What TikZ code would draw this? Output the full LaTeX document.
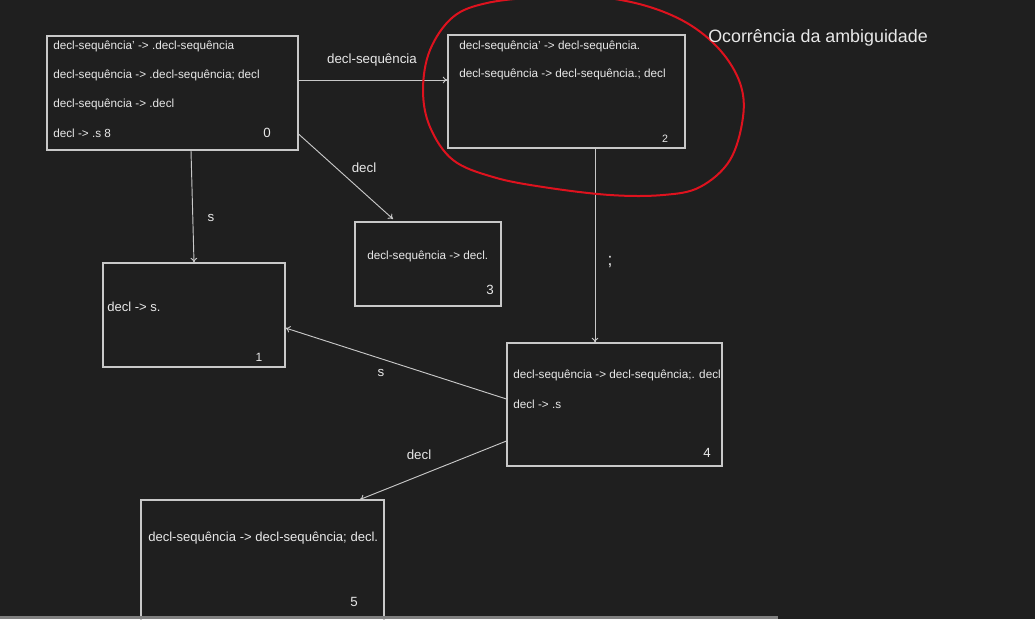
\documentclass[tikz,border=0pt]{standalone}
\usepackage{fontspec}
\setmainfont{Liberation Sans}
\usetikzlibrary{arrows.meta}

\definecolor{bgdark}{RGB}{31,31,31}
\definecolor{boxline}{RGB}{200,200,200}
\definecolor{txt}{RGB}{232,232,232}
\definecolor{inkred}{RGB}{222,18,30}
\definecolor{scrollbar}{RGB}{128,128,128}

\begin{document}
\begin{tikzpicture}[x=0.75pt,y=-0.75pt,
	state/.style 2 args={draw=boxline,line width=0.8pt,minimum width=#1*0.75pt,minimum height=#2*0.75pt,inner sep=0pt},
	item/.style={text=txt,anchor=west,inner sep=0pt,font=\fontsize{8.8}{10}\selectfont},
	bigitem/.style={item,font=\fontsize{9.8}{11}\selectfont},
	num/.style={text=txt,inner sep=0pt,font=\fontsize{#1}{11}\selectfont},
	lbl/.style={text=txt,inner sep=0pt,font=\fontsize{10}{12}\selectfont},
	trans/.style={draw=boxline,line width=0.7pt,-{To[length=3.5pt,width=5pt]}}]

	\path[use as bounding box,fill=bgdark] (0,0) rectangle (1035,619);
	\clip (0,0) rectangle (1035,619);

	% states
	\node[state={251}{114}] (s0) at (172.5,93)  {};
	\node[state={237}{113}] (s2) at (566.5,91.5) {};
	\node[state={182}{104}] (s1) at (194,315)   {};
	\node[state={146}{84}]  (s3) at (428,264)   {};
	\node[state={215}{123}] (s4) at (614.5,404.5) {};
	\node[state={243}{140}] (s5) at (262.5,570) {};

	% items
	\node[item] (i0a) at (53,46)  {decl-sequência' -> .decl-sequência};
	\node[item] (i0b) at (53,75)  {decl-sequência -> .decl-sequência; decl};
	\node[item] (i0c) at (53,104) {decl-sequência -> .decl};
	\node[item] (i0d) at (53,133) {decl -> .s 8};
	\node[num=10] (n0) at (267,133) {0};

	\node[item] (i2a) at (459,46) {decl-sequência' -> decl-sequência.};
	\node[item] (i2b) at (459,74) {decl-sequência -> decl-sequência.; decl};
	\node[num=8] (n2) at (665,139) {2};

	\node[bigitem] (i1a) at (107,307) {decl -> s.};
	\node[num=9] (n1) at (259,357) {1};

	\node[item] (i3a) at (367,256) {decl-sequência -> decl.};
	\node[num=10] (n3) at (490,290) {3};

	\node[item] (i4a) at (513,375) {decl-sequência -> decl-sequência;. decl};
	\node[item] (i4b) at (513,404) {decl -> .s};
	\node[num=10] (n4) at (707,453) {4};

	\node[bigitem] (i5a) at (148,538) {decl-sequência -> decl-sequência; decl.};
	\node[num=10] (n5) at (354,602) {5};

	% transitions
	\draw[trans] (s0.east |- 0,80) -- (s2.west |- 0,80);
	\draw[trans] (s0.east |- 0,134) -- (393,219);
	\draw[trans] (s0.south -| 191,0) -- (s1.north -| 194,0);
	\draw[trans] (s2.south -| 595,0) -- (s4.north -| 595,0);
	\draw[trans] (s4.west |- 0,399) -- (s1.east |- 0,328);
	\draw[trans] (s4.west |- 0,441) -- (s5.north -| 360,0);

	\node[lbl] (l02) at (372,60)  {decl-sequência};
	\node[lbl] (l03) at (364,168) {decl};
	\node[lbl] (l01) at (211,218) {s};
	\node[lbl,font=\fontsize{13}{14}\selectfont] (l24) at (610,262) {;};
	\node[lbl] (l41) at (381,373) {s};
	\node[lbl] (l45) at (419,455) {decl};

	% ambiguity mark
	\draw[inkred,line width=1.5pt] plot[smooth cycle,tension=0.6] coordinates {
		(590,-4) (643,5) (687,23) (720,50) (740,83) (743,117) (730,160)
		(700,187) (663,195) (610,195) (543,187) (493,177) (453,160)
		(430,127) (423,90) (430,50) (453,17) (487,3) (540,-3)};
	\node[text=txt,anchor=west,inner sep=0pt,font=\fontsize{13.4}{15}\selectfont] (amb) at (708,38) {Ocorrência da ambiguidade};

	% scroll bar
	\fill[scrollbar] (0,616) rectangle (778,619);

\end{tikzpicture}
\end{document}
